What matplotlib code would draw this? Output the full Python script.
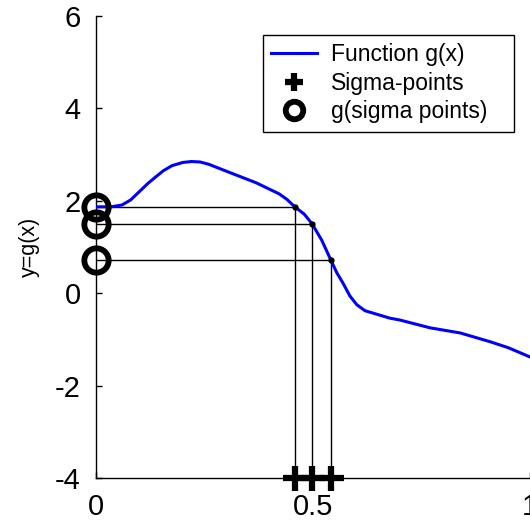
import numpy as np
import matplotlib
matplotlib.use("Agg")
import matplotlib.pyplot as plt

plt.rcParams["font.family"] = ["Liberation Sans", "DejaVu Sans"]
plt.rcParams["axes.unicode_minus"] = False

# curve g(x)
curve_x = [0.0, 0.035, 0.06, 0.08, 0.10, 0.12, 0.138, 0.155, 0.175, 0.20, 0.22, 0.24, 0.26,
           0.306, 0.369, 0.422, 0.44, 0.458, 0.48, 0.498, 0.52, 0.541, 0.555, 0.569,
           0.585, 0.601, 0.62, 0.638, 0.677, 0.70, 0.77, 0.839, 0.908, 0.95, 1.0]
curve_y = [1.87, 1.87, 1.91, 2.02, 2.20, 2.38, 2.52, 2.65, 2.76, 2.83, 2.85, 2.84, 2.79,
           2.62, 2.39, 2.15, 2.03, 1.87, 1.71, 1.50, 1.15, 0.72, 0.44, 0.22,
           -0.06, -0.25, -0.38, -0.43, -0.54, -0.58, -0.75, -0.86, -1.05, -1.18, -1.38]

sigma_x = [0.458, 0.498, 0.541]
sigma_g = [1.87, 1.50, 0.72]

x_ticks = [0, 0.5, 1]
x_tick_labels = ["0", "0.5", "1"]
y_ticks = [-4, -2, 0, 2, 4, 6]

fig = plt.figure(figsize=(5.30, 5.32), dpi=100)
ax = fig.add_axes([96 / 530, 1 - 478 / 532, 434 / 530, 462 / 532])

ax.plot(curve_x, curve_y, color="#0000ff", lw=2.2, label="Function g(x)", zorder=3)

# guide lines from sigma points to curve and over to the y axis
for sx, sg in zip(sigma_x, sigma_g):
    ax.plot([sx, sx], [-4, sg], color="black", lw=1.0, zorder=2)
    ax.plot([0, sx], [sg, sg], color="black", lw=1.0, zorder=2)
ax.plot(sigma_x, sigma_g, ".", color="black", ms=7, zorder=4)

ax.plot(sigma_x, [-4] * len(sigma_x), "+", color="black", ms=18, mew=4.5,
        label="Sigma-points", clip_on=False, zorder=5)
ax.plot([0] * len(sigma_g), sigma_g, "o", mfc="none", mec="black", ms=17.5, mew=4.2,
        label="g(sigma points)", clip_on=False, zorder=5)

ax.set_xlim(0, 1)
ax.set_ylim(-4, 6)
ax.set_xticks(x_ticks)
ax.set_xticklabels(x_tick_labels)
ax.set_yticks(y_ticks)
ax.tick_params(direction="in", length=4, width=1, labelsize=21, pad=11)

for side in ["top", "right"]:
    ax.spines[side].set_visible(False)
for side in ["left", "bottom"]:
    ax.spines[side].set_linewidth(1.0)

ax.set_ylabel("y=g(x)", fontsize=15.5)
ax.yaxis.set_label_coords(-0.13, 0.50)

# legend box stretched to the width seen in the reference
leg = ax.legend(loc="upper left", bbox_to_anchor=(263 / 530, 1 - 129 / 532, 251 / 530, 94 / 532),
                bbox_transform=fig.transFigure, mode="expand", borderaxespad=0, fontsize=16.5,
                handlelength=2.0, handletextpad=0.6, labelspacing=0.24,
                borderpad=0.36, markerscale=0.72, fancybox=False, framealpha=1)
leg.get_frame().set_edgecolor("black")
leg.get_frame().set_linewidth(1.0)

fig.savefig("out.png", dpi=100)
